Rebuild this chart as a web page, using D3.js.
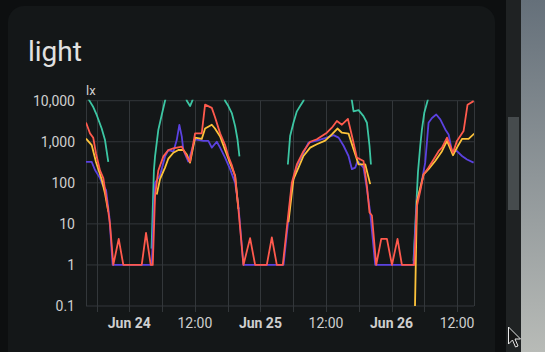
<!DOCTYPE html>
<html>
<head>
<meta charset="utf-8">
<script src="https://cdn.jsdelivr.net/npm/d3@7/dist/d3.min.js"></script>
<style>
  html, body { margin: 0; padding: 0; background: #0d0f10; overflow: hidden; }
  svg { display: block; font-family: Roboto, "Noto Sans", sans-serif; }
</style>
</head>
<body>
<div id="chart"></div>
<script>
// Data: [hours since Jun 24 00:00, lx]; null breaks the line
const teal = [[-7.93,14000],[-7.2,9500],[-6.6,7000],[-5.97,4500],[-5.06,2100],[-4.45,1100],[-3.85,325],[-3.8,null],
  [4.07,2.5],[4.5,200],[4.71,440],[5.31,1950],[5.93,4500],[6.54,10000],[7.1,20000],[10.0,20000],[10.52,10000],[11.12,7400],[11.54,10000],[12.1,20000],
  [17.0,20000],[17.53,10000],[18.13,7400],[18.76,5000],[19.37,2400],[19.8,1150],[20.16,440],[20.2,null],
  [29.02,280],[29.44,1380],[30.05,2900],[30.67,5500],[31.27,7400],[31.88,10000],[32.4,20000],[40.2,20000],[40.75,10000],[41.05,5500],[41.97,5900],[42.87,4200],[43.5,2900],[43.97,800],[44.23,280],[44.3,null],
  [52.03,1.27],[52.47,19],[52.84,180],[53.26,800],[53.57,2000],[53.99,5000],[54.6,10000],[55.1,20000],[63.15,20000]];

const purple = [[-7.93,325],[-6.89,325],[-6.28,205],[-5.37,130],[-4.87,89],[-4.26,67],[-3.66,15],[-3.05,1],[4.1,1],[4.71,100],[5.62,150],[6.54,440],[7.15,630],[8.06,575],[8.68,1100],[9.16,2570],[9.6,1350],[9.89,630],[10.8,330],[12.04,1150],[13.56,1050],[14.47,1050],[15.1,720],[16.01,1000],[16.62,720],[17.53,410],[18.45,215],[19.37,100],[19.97,28],[20.89,1],
  [28.22,1],[29.13,13],[29.75,83],[30.67,257],[31.88,540],[32.8,955],[34.33,1070],[36.17,1260],[37.39,1450],[38.31,1260],[39.22,800],[40.13,450],[40.75,215],[41.36,235],[41.78,340],[42.87,235],[43.5,70],[44.1,19],[45.02,1],
  [52.03,1],[52.65,40],[53.26,70],[54.17,310],[54.78,2900],[55.41,3800],[56.19,4600],[56.93,3500],[57.84,2000],[58.45,1510],[59.07,590],[59.98,590],[60.9,450],[61.82,370],[63.03,310]];

const yellow = [[-7.93,1200],[-6.89,830],[-6.1,320],[-5.06,120],[-4.45,55],[-3.85,20],[-3.8,null],
  [5.02,52],[5.62,123],[6.54,235],[7.15,390],[8.06,540],[8.98,630],[9.89,630],[10.52,490],[11.12,310],[12.04,1260],[13.26,1170],[13.87,2100],[15.1,2600],[15.68,2100],[16.62,1350],[17.53,630],[18.45,300],[19.37,150],[19.97,23],[20,null],
  [29.13,11],[30.05,123],[30.97,235],[31.88,450],[33.11,720],[34.33,870],[35.85,1070],[37.08,1510],[38.1,2100],[38.92,1660],[40.13,1580],[41.05,660],[41.97,280],[43.2,280],[44.1,93],[44.2,null],
  [52.3,0.1],[52.65,35],[53.87,160],[54.78,215],[56.0,340],[57.24,590],[58.16,1050],[59.25,470],[59.98,720],[60.9,1170],[62.11,1170],[63.15,1580]];

const red = [[-7.93,2950],[-7.2,1600],[-6.6,1250],[-6.1,520],[-5.37,200],[-4.76,130],[-4.03,30],[-3.54,10],[-2.93,1],[-1.94,4.3],[-1.1,1],[2.27,1],[3.06,6],[3.92,1],[4.29,1],
  [4.71,48],[5.31,200],[6.23,440],[7.15,630],[8.06,690],[9.6,760],[10.52,440],[11.12,330],[12.04,1600],[13.26,1600],[13.87,8000],[15.1,6700],[15.68,4000],[16.62,1600],[17.53,830],[18.13,440],[18.76,270],[19.37,140],[19.97,23],
  [20.89,1],[22.11,4.5],[23.03,1],[25.17,1],[26.09,4.7],[27.0,1],[28.1,1],[28.95,11],[29.75,100],[30.67,280],[31.88,590],[33.11,1000],[34.33,1150],[36.17,1660],[37.08,2200],[38.0,3200],[38.92,2600],[40.02,3600],[40.75,1400],[41.66,410],[42.87,340],[43.5,83],[43.97,19],[44.41,16],
  [45.2,1],[46.12,4.3],[47.16,4.3],[48.08,1],[49.1,4.3],[49.9,1],[52.16,1],[52.65,27],[53.26,63],[53.87,160],[54.78,235],[55.7,370],[56.62,590],[57.24,720],[58.16,1260],[58.76,800],[59.25,540],[59.98,1050],[61.19,1820],[61.92,8000],[63.03,9800]];

const yTicks = [0.1, 1, 10, 100, 1000, 10000];
const yTickLabels = ["0.1", "1", "10", "100", "1,000", "10,000"];
const xDomainHours = [-7.93, 63.1];

const width = 545, height = 352;
const plot = { left: 86, right: 474, top: 100.7, bottom: 306 };

const base = new Date(2024, 5, 24, 0, 0);
const toDate = h => new Date(base.getTime() + h * 3600e3);

const svg = d3.select("#chart").append("svg")
  .attr("width", width).attr("height", height);

// page background + right-hand scrollbar / desktop strip
const grad = svg.append("defs").append("linearGradient")
  .attr("id", "desk").attr("x1", 0).attr("y1", 0).attr("x2", 0).attr("y2", 1);
grad.append("stop").attr("offset", "0%").attr("stop-color", "#65707a");
grad.append("stop").attr("offset", "100%").attr("stop-color", "#b8bbb7");

svg.append("rect").attr("width", width).attr("height", height).attr("fill", "#0d0f10");
svg.append("rect").attr("x", 506).attr("y", 0).attr("width", 15).attr("height", height).attr("fill", "#1f2223");
svg.append("rect").attr("x", 508).attr("y", 117).attr("width", 11).attr("height", 93).attr("fill", "#464b4d");
svg.append("rect").attr("x", 521).attr("y", 0).attr("width", 24).attr("height", height).attr("fill", "url(#desk)");

// card
svg.append("rect")
  .attr("x", 8).attr("y", 6).attr("width", 487).attr("height", 380)
  .attr("rx", 16).attr("fill", "#141718");

svg.append("text")
  .attr("x", 28).attr("y", 61)
  .attr("font-size", "28px")
  .attr("fill", "#e1e1e1")
  .text("light");

// scales
const x = d3.scaleTime()
  .domain(xDomainHours.map(toDate))
  .range([plot.left, plot.right]);

const y = d3.scaleLog()
  .domain([0.1, 10000])
  .range([plot.bottom, plot.top]);

const gridColor = "#33373a";

// horizontal grid
svg.append("g").selectAll("line")
  .data(yTicks)
  .join("line")
  .attr("x1", plot.left).attr("x2", plot.right)
  .attr("y1", d => y(d)).attr("y2", d => y(d))
  .attr("stroke", gridColor).attr("stroke-width", 1);

// vertical grid every 6h, with tick below axis
const xTicks = x.ticks(d3.timeHour.every(6));
svg.append("g").selectAll("line")
  .data(xTicks)
  .join("line")
  .attr("x1", d => Math.round(x(d)) + 0.5).attr("x2", d => Math.round(x(d)) + 0.5)
  .attr("y1", plot.top).attr("y2", plot.bottom + 6)
  .attr("stroke", gridColor).attr("stroke-width", 1);

// plot borders left/right
[plot.left, plot.right].forEach(px => {
  svg.append("line")
    .attr("x1", px + 0.5).attr("x2", px + 0.5)
    .attr("y1", plot.top).attr("y2", plot.bottom)
    .attr("stroke", gridColor);
});

// y labels
svg.append("g").selectAll("text")
  .data(yTicks)
  .join("text")
  .attr("x", 75)
  .attr("y", d => y(d))
  .attr("dy", "0.35em")
  .attr("text-anchor", "end")
  .attr("font-size", "14px")
  .attr("fill", "#cfcfcf")
  .text((d, i) => yTickLabels[i]);

svg.append("text")
  .attr("x", 86).attr("y", 95)
  .attr("font-size", "13px")
  .attr("fill", "#cfcfcf")
  .text("lx");

// x labels every 12h
const fmtDay = d3.timeFormat("%b %-d");
svg.append("g").selectAll("text")
  .data(xTicks.filter(d => d.getHours() % 12 === 0))
  .join("text")
  .attr("x", d => x(d))
  .attr("y", 328)
  .attr("text-anchor", "middle")
  .attr("font-size", "14px")
  .attr("font-weight", d => d.getHours() === 0 ? "bold" : "normal")
  .attr("fill", "#cfcfcf")
  .text(d => d.getHours() === 0 ? fmtDay(d) : "12:00");

// lines
svg.append("clipPath").attr("id", "clip")
  .append("rect")
  .attr("x", plot.left).attr("y", plot.top - 1)
  .attr("width", plot.right - plot.left).attr("height", plot.bottom - plot.top + 1);

const line = d3.line()
  .defined(d => d[1] != null)
  .x(d => x(toDate(d[0])))
  .y(d => y(d[1]));

const series = [
  { data: teal, color: "#3cc6a3" },
  { data: purple, color: "#5b42e0" },
  { data: yellow, color: "#fdc33a" },
  { data: red, color: "#ff5a4d" }
];

const lines = svg.append("g").attr("clip-path", "url(#clip)");
series.forEach(s => {
  lines.append("path")
    .attr("d", line(s.data))
    .attr("fill", "none")
    .attr("stroke", s.color)
    .attr("stroke-width", 1.8)
    .attr("stroke-linejoin", "round");
});

// mouse pointer
svg.append("path")
  .attr("d", "M508.5,327 L508.5,344 L512.5,340 L515.5,347 L518,346 L515,339 L520.5,339 Z")
  .attr("fill", "#151515")
  .attr("stroke", "#e8e8e8")
  .attr("stroke-width", 1);
</script>
</body>
</html>
